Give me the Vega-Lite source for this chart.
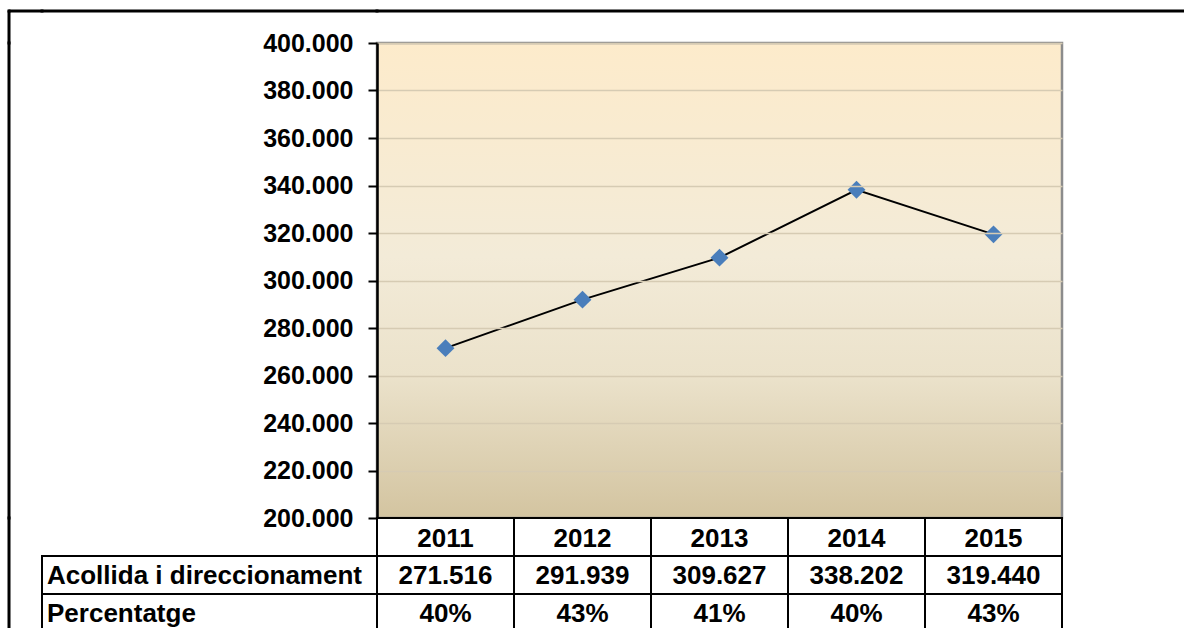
{
  "$schema": "https://vega.github.io/schema/vega-lite/v6.json",
  "padding": {"left": 7, "top": 9, "right": 0, "bottom": 0},
  "background": "white",
  "bounds": "flush",
  "align": "each",
  "spacing": 0,
  "columns": 4,
  "datasets": {
    "series": [
      {"year": "2011", "acollida": 271516, "percentatge": 0.40},
      {"year": "2012", "acollida": 291939, "percentatge": 0.43},
      {"year": "2013", "acollida": 309627, "percentatge": 0.41},
      {"year": "2014", "acollida": 338202, "percentatge": 0.40},
      {"year": "2015", "acollida": 319440, "percentatge": 0.43}
    ],
    "labels": [{"row": "Acollida i direccionament"}, {"row": "Percentatge"}],
    "none": []
  },
  "config": {
    "view": {"stroke": null},
    "font": "Liberation Sans",
    "locale": {"number": {"decimal": ",", "thousands": ".", "grouping": [3], "currency": ["", " €"]}}
  },
  "concat": [
    {"width": 0.01, "height": 0.01, "data": {"name": "none"}, "mark": "rule", "encoding": {}, "view": {"stroke": "black", "strokeWidth": 3}},
    {"width": 32, "height": 0.01, "data": {"name": "none"}, "mark": "rule", "encoding": {}, "view": {"stroke": "black", "strokeWidth": 3}},
    {"width": 335, "height": 0.01, "data": {"name": "none"}, "mark": "rule", "encoding": {}, "view": {"stroke": "black", "strokeWidth": 3}},
    {"width": 850, "height": 0.01, "data": {"name": "none"}, "mark": "rule", "encoding": {}, "view": {"stroke": "black", "strokeWidth": 3}},

    {"width": 0.01, "height": 31, "data": {"name": "none"}, "mark": "rule", "encoding": {}, "view": {"stroke": "black", "strokeWidth": 3}},
    {"width": 32, "height": 31, "data": {"name": "none"}, "mark": "rule", "encoding": {}},
    {"width": 335, "height": 31, "data": {"name": "none"}, "mark": "rule", "encoding": {}},
    {"width": 685, "height": 31, "data": {"name": "none"}, "mark": "rule", "encoding": {}},

    {"width": 0.01, "height": 475, "data": {"name": "none"}, "mark": "rule", "encoding": {}, "view": {"stroke": "black", "strokeWidth": 3}},
    {"width": 32, "height": 475, "data": {"name": "none"}, "mark": "rule", "encoding": {}},
    {"width": 335, "height": 475, "data": {"name": "none"}, "mark": "rule", "encoding": {}},
    {
      "width": 685, "height": 475,
      "data": {"name": "series"},
      "view": {
        "stroke": "#8C8C8C", "strokeWidth": 2.5,
        "fill": {"gradient": "linear", "x1": 0, "y1": 0, "x2": 0, "y2": 1,
          "stops": [
            {"offset": 0, "color": "#FDEBCB"},
            {"offset": 0.45, "color": "#F3EBD8"},
            {"offset": 0.7, "color": "#EBE2CB"},
            {"offset": 1, "color": "#D3C4A0"}
          ]}
      },
      "encoding": {
        "x": {"field": "year", "type": "ordinal", "scale": {"type": "point", "padding": 0.5}, "axis": null},
        "y": {
          "field": "acollida", "type": "quantitative",
          "scale": {"domain": [200000, 400000], "nice": false, "zero": false},
          "axis": {
            "values": [200000, 220000, 240000, 260000, 280000, 300000, 320000, 340000, 360000, 380000, 400000],
            "format": ",d", "title": null,
            "domainColor": "black", "domainWidth": 2.5,
            "tickColor": "black", "tickWidth": 2, "tickSize": 9,
            "labelPadding": 15, "labelFont": "Liberation Sans", "labelFontSize": 25,
            "labelFontWeight": "bold", "labelColor": "black",
            "labelOverlap": false, "labelBound": false, "labelFlush": false,
            "grid": true, "gridColor": "#D6CBB3", "gridWidth": 1.5,
            "zindex": 1
          }
        }
      },
      "layer": [
        {"mark": {"type": "line", "color": "black", "strokeWidth": 2}},
        {"mark": {"type": "point", "shape": "diamond", "filled": true, "color": "#4A7EBB", "size": 320, "opacity": 1}}
      ]
    },

    {"width": 0.01, "height": 150, "data": {"name": "none"}, "mark": "rule", "encoding": {}, "view": {"stroke": "black", "strokeWidth": 3}},
    {"width": 32, "height": 114, "data": {"name": "none"}, "mark": "rule", "encoding": {}},
    {
      "width": 335, "height": 114,
      "data": {"name": "labels"},
      "encoding": {
        "y": {"field": "row", "type": "nominal",
          "scale": {"domain": ["header", "Acollida i direccionament", "Percentatge"], "paddingInner": 0, "paddingOuter": 0},
          "axis": null}
      },
      "layer": [
        {
          "mark": {"type": "rect", "fill": "white", "stroke": "black", "strokeWidth": 2},
          "encoding": {
            "x": {"datum": 0, "type": "quantitative", "scale": {"domain": [0, 1]}, "axis": null},
            "x2": {"datum": 1}
          }
        },
        {
          "mark": {"type": "text", "align": "left", "baseline": "middle", "dx": 5, "dy": 1, "fontSize": 26, "fontWeight": "bold", "font": "Liberation Sans", "color": "black"},
          "encoding": {
            "x": {"datum": 0, "type": "quantitative", "scale": {"domain": [0, 1]}, "axis": null},
            "text": {"field": "row"}
          }
        }
      ]
    },
    {
      "width": 685, "height": 114,
      "data": {"name": "series"},
      "encoding": {
        "x": {"field": "year", "type": "ordinal", "scale": {"type": "band", "paddingInner": 0, "paddingOuter": 0}, "axis": null}
      },
      "layer": [
        {
          "mark": {"type": "rect", "fill": "white", "stroke": "black", "strokeWidth": 2},
          "encoding": {"y": {"datum": "header", "type": "nominal", "scale": {"domain": ["header", "Acollida i direccionament", "Percentatge"], "paddingInner": 0, "paddingOuter": 0}, "axis": null}}
        },
        {
          "mark": {"type": "rect", "fill": "white", "stroke": "black", "strokeWidth": 2},
          "encoding": {"y": {"datum": "Acollida i direccionament", "type": "nominal", "axis": null}}
        },
        {
          "mark": {"type": "rect", "fill": "white", "stroke": "black", "strokeWidth": 2},
          "encoding": {"y": {"datum": "Percentatge", "type": "nominal", "axis": null}}
        },
        {
          "mark": {"type": "text", "align": "center", "baseline": "middle", "dy": 2, "fontSize": 26, "fontWeight": "bold", "font": "Liberation Sans", "color": "black"},
          "encoding": {"y": {"datum": "header", "type": "nominal", "axis": null}, "text": {"field": "year"}}
        },
        {
          "mark": {"type": "text", "align": "center", "baseline": "middle", "dy": 1, "fontSize": 26, "fontWeight": "bold", "font": "Liberation Sans", "color": "black"},
          "encoding": {"y": {"datum": "Acollida i direccionament", "type": "nominal", "axis": null}, "text": {"field": "acollida", "type": "quantitative", "format": ",d"}}
        },
        {
          "mark": {"type": "text", "align": "center", "baseline": "middle", "dy": 1, "fontSize": 26, "fontWeight": "bold", "font": "Liberation Sans", "color": "black"},
          "encoding": {"y": {"datum": "Percentatge", "type": "nominal", "axis": null}, "text": {"field": "percentatge", "type": "quantitative", "format": ".0%"}}
        }
      ]
    }
  ]
}
